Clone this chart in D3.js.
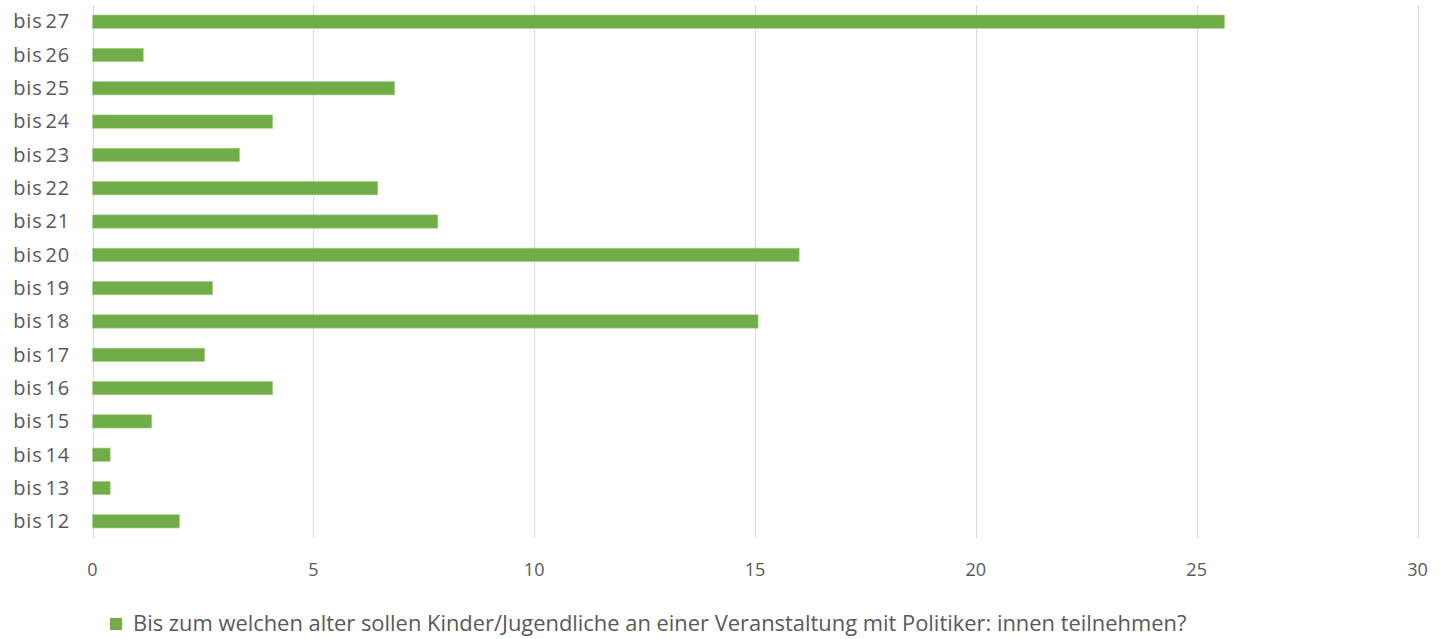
<!DOCTYPE html>
<html><head><meta charset="utf-8">
<script src="https://cdn.jsdelivr.net/npm/d3@7"></script>
<style>body{margin:0;background:#fff}svg{display:block}</style>
</head><body>
<svg id="c" width="1445" height="639"></svg>
<script>
const categories = ["bis 27","bis 26","bis 25","bis 24","bis 23","bis 22","bis 21","bis 20","bis 19","bis 18","bis 17","bis 16","bis 15","bis 14","bis 13","bis 12"];
const values = [25.63, 1.15, 6.84, 4.08, 3.33, 6.46, 7.82, 16.0, 2.72, 15.07, 2.54, 4.08, 1.34, 0.4, 0.4, 1.97];
const xTicks = [0, 5, 10, 15, 20, 25, 30];
const seriesName = "Bis zum welchen alter sollen Kinder/Jugendliche an einer Veranstaltung mit Politiker: innen teilnehmen?";

(function () {
const svg = d3.select("#c");
const font = "'Open Sans', 'Noto Sans', sans-serif";
const pLeft = 92.5, pRight = 1417.5, pTop = 5, pBottom = 538;
const x = d3.scaleLinear().domain([0, 30]).range([pLeft, pRight]);
const y = d3.scaleBand().domain(categories).range([pTop, pBottom]).paddingInner(0.6).paddingOuter(0.3);

svg.append("g").selectAll("line").data(xTicks).join("line")
  .attr("x1", d => Math.round(x(d)) + 0.5).attr("x2", d => Math.round(x(d)) + 0.5)
  .attr("y1", pTop).attr("y2", pBottom)
  .attr("stroke", "#d9d9d9").attr("stroke-width", 1);

svg.append("g").selectAll("text").data(xTicks).join("text")
  .attr("x", d => x(d)).attr("y", 576)
  .attr("text-anchor", "middle")
  .attr("font-family", font).attr("font-size", 18).attr("fill", "#595959")
  .text(d => d);

svg.append("g").selectAll("rect").data(values).join("rect")
  .attr("x", x(0))
  .attr("y", (d, i) => y(categories[i]))
  .attr("width", d => x(d) - x(0))
  .attr("height", y.bandwidth())
  .attr("fill", "#70ad47")
  .attr("stroke", "#a9d18e").attr("stroke-width", 0.6);

svg.append("g").selectAll("text").data(categories).join("text")
  .attr("x", 70).attr("y", d => y(d) + y.bandwidth() / 2)
  .attr("dy", "0.34em")
  .attr("text-anchor", "end")
  .attr("font-family", font).attr("font-size", 20).attr("fill", "#595959")
  .attr("letter-spacing", "0.8").attr("word-spacing", "-3")
  .text(d => d);

const lg = svg.append("g");
lg.append("rect").attr("x", 110).attr("y", 618).attr("width", 12).attr("height", 12).attr("fill", "#70ad47");
const lt = lg.append("text").attr("x", 133).attr("y", 631)
  .attr("font-family", font).attr("font-size", 16).attr("fill", "#595959")
  .text(seriesName);
const w = lt.node().getComputedTextLength();
lt.attr("font-size", 16 * 1054 / w);
})();
</script>
</body></html>
